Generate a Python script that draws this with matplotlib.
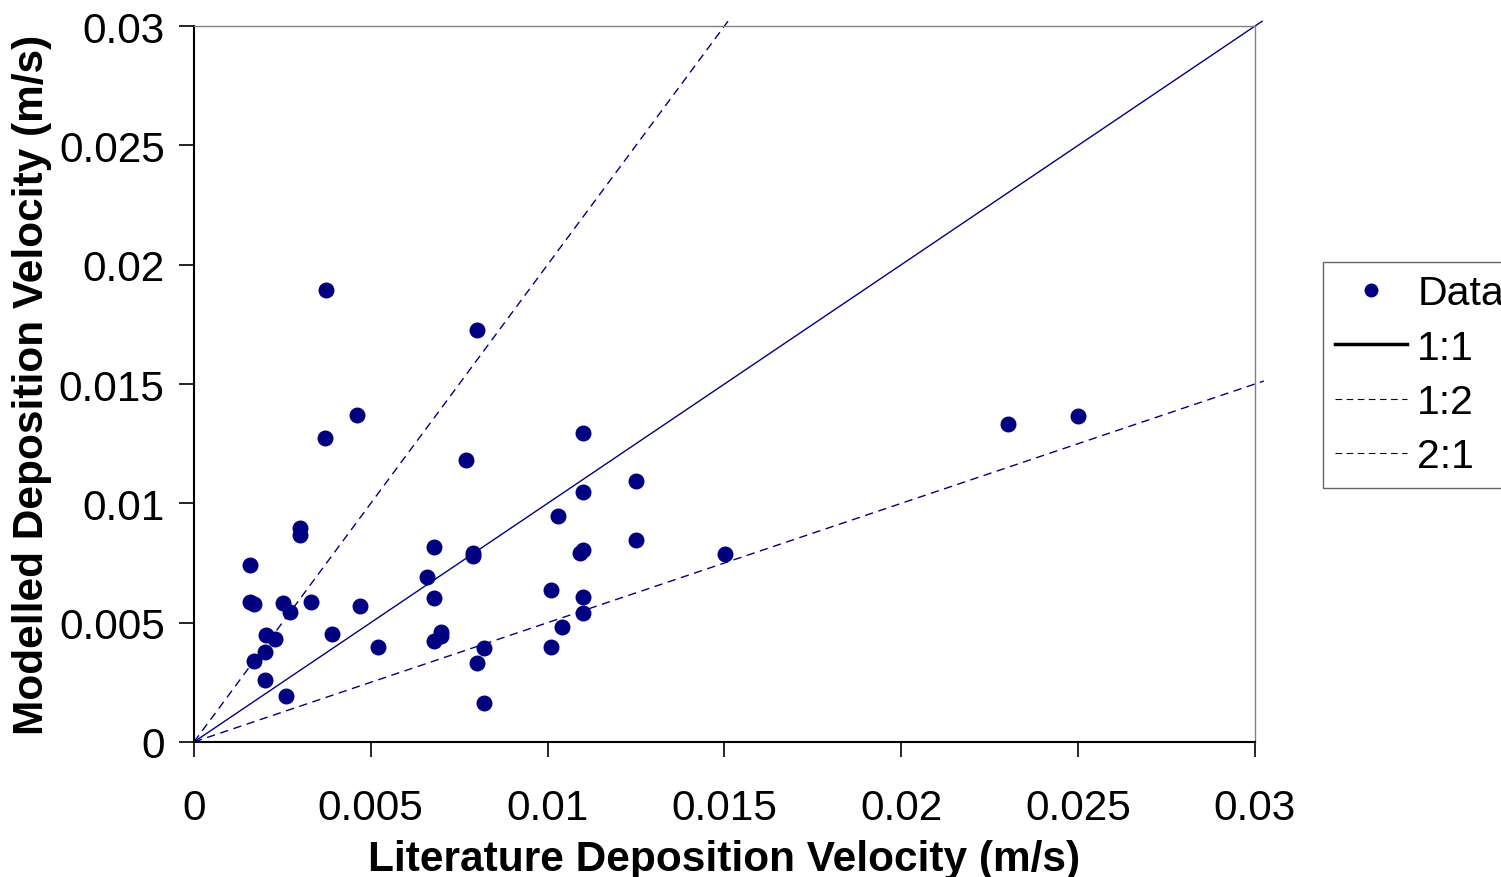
import numpy as np
import matplotlib.pyplot as plt
from matplotlib.lines import Line2D

plt.rcParams['font.family'] = ['Liberation Sans', 'DejaVu Sans']

# literature vs modelled deposition velocity (m/s)
lit_vd = [0.00158, 0.00158, 0.00170, 0.00170, 0.00201, 0.00204, 0.00201, 0.00229,
          0.00252, 0.00271, 0.00260, 0.00300, 0.00300, 0.00331, 0.00373, 0.00370,
          0.00461, 0.00390, 0.00469, 0.00520, 0.00659, 0.00679, 0.00679, 0.00679,
          0.00698, 0.00698, 0.00769, 0.00789, 0.00789, 0.00800, 0.00800, 0.00820,
          0.00820, 0.01009, 0.01009, 0.01029, 0.01040, 0.01091, 0.01100, 0.01100,
          0.01100, 0.01100, 0.01100, 0.01250, 0.01250, 0.01502, 0.02301, 0.02499]
mod_vd = [0.00742, 0.00587, 0.00578, 0.00339, 0.00377, 0.00448, 0.00260, 0.00432,
          0.00582, 0.00545, 0.00193, 0.00897, 0.00867, 0.00587, 0.01894, 0.01274,
          0.01370, 0.00453, 0.00570, 0.00398, 0.00691, 0.00817, 0.00603, 0.00423,
          0.00461, 0.00444, 0.01182, 0.00792, 0.00779, 0.01726, 0.00331, 0.00394,
          0.00163, 0.00637, 0.00398, 0.00947, 0.00482, 0.00792, 0.00804, 0.01295,
          0.01048, 0.00608, 0.00541, 0.01094, 0.00846, 0.00788, 0.01332, 0.01366]

# reference lines: slope and end x
ref_names = ['1:1', '1:2', '2:1']
ref_slopes = [1.0, 2.0, 0.5]
ref_xend = [0.0302, 0.0151, 0.03025]

ticks = [0, 0.005, 0.01, 0.015, 0.02, 0.025, 0.03]
tick_labels = ['0', '0.005', '0.01', '0.015', '0.02', '0.025', '0.03']

navy = '#000080'

fig = plt.figure(figsize=(15.01, 8.78), dpi=100)
ax = fig.add_axes([0.1292, 0.1538, 0.8361 - 0.1292, 0.9692 - 0.1538])

ax.scatter(lit_vd, mod_vd, s=110, color=navy, zorder=3, clip_on=False)
for name, k, xe in zip(ref_names, ref_slopes, ref_xend):
    xs = np.array([0, xe])
    ls = '-' if name == '1:1' else (0, (6, 4))
    ax.plot(xs, k * xs, color=navy, lw=1.0, ls=ls, clip_on=False)

ax.set_xlim(0, 0.03)
ax.set_ylim(0, 0.03)
ax.set_xticks(ticks)
ax.set_xticklabels(tick_labels)
ax.set_yticks(ticks)
ax.set_yticklabels(tick_labels)
ax.tick_params(direction='out', length=11, width=1.2, labelsize=30.5)
ax.tick_params(axis='x', pad=22)
ax.tick_params(axis='y', pad=10)
for side in ['left', 'bottom']:
    ax.spines[side].set_linewidth(1.5)
for side in ['top', 'right']:
    ax.spines[side].set_linewidth(1.0)
    ax.spines[side].set_color('#808080')

ax.set_xlabel('Literature Deposition Velocity (m/s)', fontsize=30.5, fontweight='bold', labelpad=8)
ax.set_ylabel('Modelled Deposition Velocity (m/s)', fontsize=30.5, fontweight='bold', labelpad=5)

handles = [
    Line2D([], [], ls='none', marker='o', color=navy, markersize=9),
    Line2D([], [], color='black', lw=2.5),
    Line2D([], [], color=navy, lw=0.8, ls=(0, (6, 4))),
    Line2D([], [], color=navy, lw=0.8, ls=(0, (6, 4))),
]
leg = fig.legend(handles, ['Data'] + ref_names, loc='upper left',
                 bbox_to_anchor=(0.8814, 0.7005), fontsize=29.5, frameon=True,
                 fancybox=False, edgecolor='#404040', handlelength=1.75,
                 handletextpad=0.25, labelspacing=0.4, borderpad=0.3,
                 borderaxespad=0)
leg.get_frame().set_linewidth(1.0)

fig.savefig('out.png', dpi=100)
